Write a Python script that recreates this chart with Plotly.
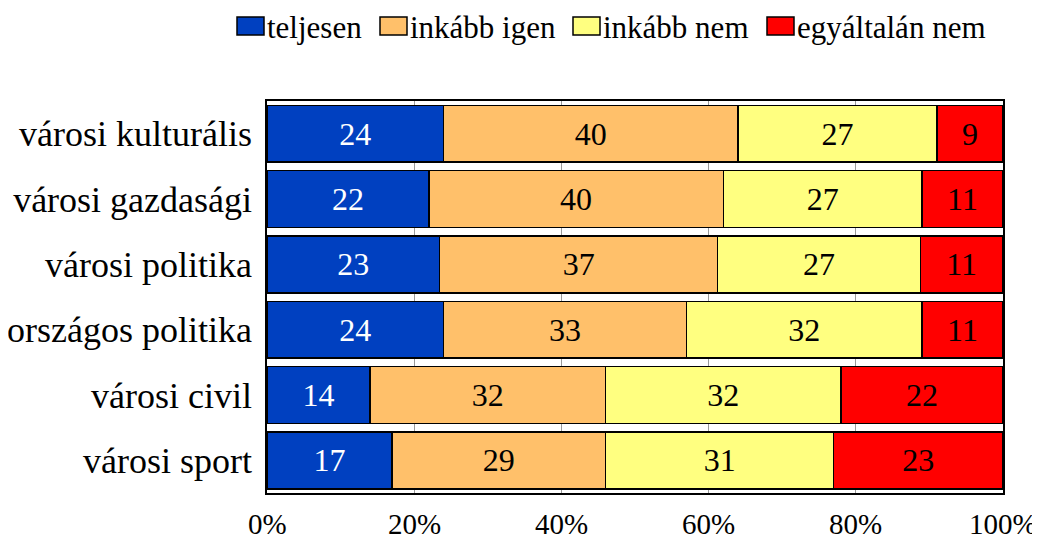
import plotly.graph_objects as go

categories = ["városi kulturális", "városi gazdasági", "városi politika",
              "országos politika", "városi civil", "városi sport"]
teljesen = [24, 22, 23, 24, 14, 17]
inkabb_igen = [40, 40, 37, 33, 32, 29]
inkabb_nem = [27, 27, 27, 32, 32, 31]
egyaltalan_nem = [9, 11, 11, 11, 22, 23]
x_ticks = [0, 20, 40, 60, 80, 100]
x_ticklabels = ["0%", "20%", "40%", "60%", "80%", "100%"]

series = [
    ("teljesen", teljesen, "#0040C0", "white"),
    ("inkább igen", inkabb_igen, "#FFC06A", "black"),
    ("inkább nem", inkabb_nem, "#FFFF80", "black"),
    ("egyáltalán nem", egyaltalan_nem, "#FF0000", "black"),
]

font = "Liberation Serif, Times New Roman, serif"

# the page body adds an 8px margin, so the figure is drawn 8px smaller
OFF = 8
W, H = 1040 - OFF, 534 - OFF
L, T = 267 - OFF, 101 - OFF
R, B = 37, 41
pw, ph = W - L - R, H - T - B

# legend swatches: left edge in page pixels, 27x18 boxes
legend_x = [237, 380, 573, 767]
sw, sy0, sy1 = 27, 17, 35


def to_paper(px, py):
    return (px - OFF - L) / pw, (H - B - (py - OFF)) / ph


fig = go.Figure()
for name, vals, color, tcolor in series:
    fig.add_trace(go.Bar(
        name=name, y=categories, x=vals, orientation="h",
        marker=dict(color=color, line=dict(color="black", width=1.5)),
        text=[str(v) for v in vals], textposition="inside",
        insidetextanchor="middle",
        textfont=dict(family=font, size=32, color=tcolor),
    ))

# hand-built legend with box swatches like the original
for (name, vals, color, tcolor), px in zip(series, legend_x):
    x0, y1 = to_paper(px, sy0)
    x1, y0 = to_paper(px + sw, sy1)
    fig.add_shape(type="rect", xref="paper", yref="paper", x0=x0, x1=x1, y0=y0, y1=y1,
                  fillcolor=color, line=dict(color="black", width=1.5))
    tx, ty = to_paper(px + sw + 1, 27)
    fig.add_annotation(xref="paper", yref="paper", x=tx, y=ty,
                       xanchor="left", yanchor="middle", text=name, showarrow=False,
                       font=dict(family=font, size=31, color="black"))

# x tick labels as annotations (kept clear of the figure's clipping)
for v, lab in zip(x_ticks, x_ticklabels):
    fig.add_annotation(xref="x", yref="paper", x=v, y=0, yshift=-13,
                       xanchor="center", yanchor="top", text=lab, showarrow=False,
                       font=dict(family=font, size=29, color="black"))

fig.update_layout(
    barmode="stack", barnorm="percent", bargap=0.13,
    width=W, height=H,
    margin=dict(l=L, r=R, t=T, b=B, autoexpand=False),
    paper_bgcolor="white", plot_bgcolor="white",
    font=dict(family=font, color="black"),
    uniformtext=dict(minsize=32, mode="show"),
    showlegend=False,
)
fig.update_xaxes(range=[0, 100], tickvals=x_ticks, showticklabels=False,
                 showgrid=True, gridcolor="#999999", gridwidth=1,
                 showline=True, linecolor="black", linewidth=1.5, mirror=True,
                 ticks="", zeroline=False, automargin=False)
fig.update_yaxes(autorange="reversed", tickfont=dict(size=36, family=font),
                 showline=True, linecolor="black", linewidth=1.5, mirror=True,
                 ticks="", ticklabelstandoff=6, automargin=False)

fig.write_html("out.html")
